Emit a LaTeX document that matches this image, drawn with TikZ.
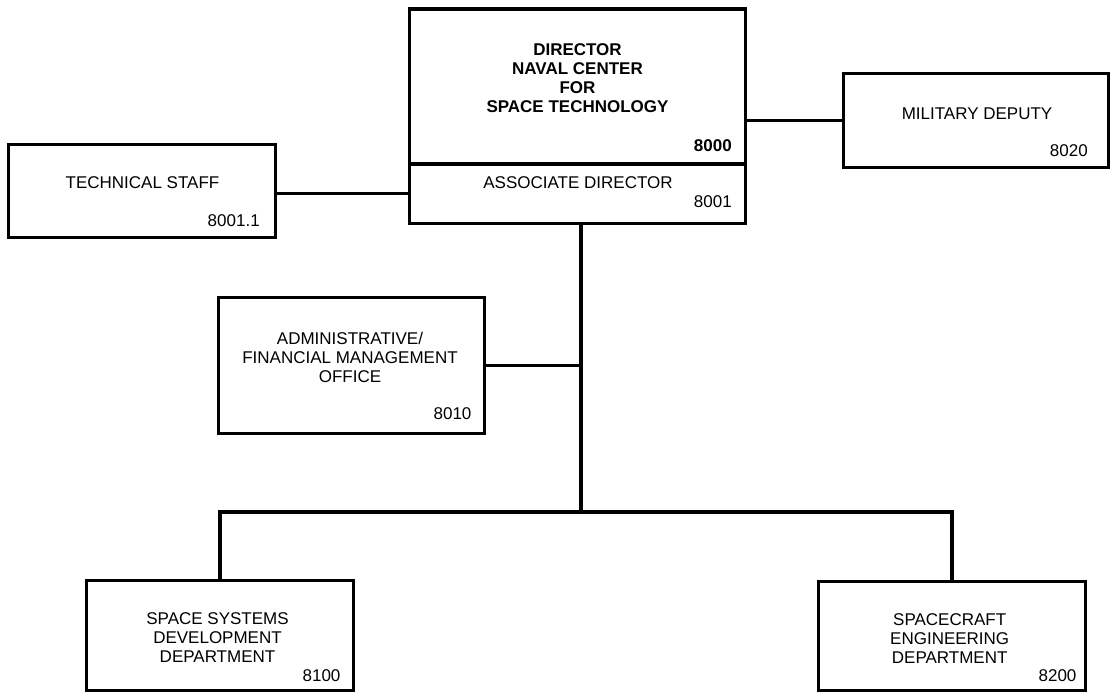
\documentclass[tikz,border=0pt]{standalone}
\usepackage{fontspec}
\setmainfont{Liberation Sans}
\begin{document}
\begin{tikzpicture}[x=0.75pt,y=-0.75pt,
  box/.style={draw, line width=2.4pt, rectangle, inner sep=0pt},
  conn/.style={line width=2.3pt, line join=miter},
  title/.style={inner sep=0pt, align=center, font=\fontsize{12.75pt}{14.25pt}\selectfont},
  num/.style={inner sep=0pt, anchor=east, font=\fontsize{12.75pt}{14.25pt}\selectfont}]
\useasboundingbox (0,0) rectangle (1113,694);

% boxes
\node[box, minimum width=252pt, minimum height=116.2pt] (dirtop) at (577.1,86.55) {};
\node[box, minimum width=252pt, minimum height=44.55pt] (assoc) at (577.1,193.7) {};
\node[box, minimum width=200.1pt, minimum height=69.6pt] (tech) at (142,191) {};
\node[box, minimum width=198.6pt, minimum height=70.35pt] (mil) at (976,120.5) {};
\node[box, minimum width=199.35pt, minimum height=101.85pt] (admin) at (351.5,365.5) {};
\node[box, minimum width=200.1pt, minimum height=82.35pt] (ssd) at (220,635.5) {};
\node[box, minimum width=200.1pt, minimum height=81.6pt] (sce) at (952,636) {};

% texts
\node[title, font=\fontsize{12.75pt}{14.25pt}\selectfont\bfseries] (tdir) at (577.5,78.5)
  {DIRECTOR\\NAVAL CENTER\\FOR\\SPACE TECHNOLOGY};
\node[num, font=\fontsize{12.75pt}{14.25pt}\selectfont\bfseries] (ndir) at (732,146) {8000};
\node[title] (tassoc) at (578,183) {ASSOCIATE DIRECTOR};
\node[num] (nassoc) at (732,202) {8001};
\node[title] (ttech) at (142.5,183) {TECHNICAL STAFF};
\node[num] (ntech) at (260,220.7) {8001.1};
\node[title] (tmil) at (977,114) {MILITARY DEPUTY};
\node[num] (nmil) at (1088,150.7) {8020};
\node[title] (tadmin) at (350,357.7) {ADMINISTRATIVE/\\FINANCIAL MANAGEMENT\\OFFICE};
\node[num] (nadmin) at (471.7,414) {8010};
\node[title] (tssd) at (217.5,637.8) {SPACE SYSTEMS\\DEVELOPMENT\\DEPARTMENT};
\node[num] (nssd) at (340.7,675.7) {8100};
\node[title] (tsce) at (949.7,639) {SPACECRAFT\\ENGINEERING\\DEPARTMENT};
\node[num] (nsce) at (1076.7,676) {8200};

% connectors
\coordinate (busc) at (581,512);
\draw[conn] (assoc.west) -- (assoc.west -| tech.east);
\draw[conn] (mil.west) -- (mil.west -| dirtop.east);
\draw[conn] (assoc.south -| busc) -- (busc);
\draw[conn] (admin.east) -- (admin.east -| busc);
\draw[conn] (ssd.north) -- (ssd.north |- busc) -- (sce.north |- busc) -- (sce.north);
\end{tikzpicture}
\end{document}
